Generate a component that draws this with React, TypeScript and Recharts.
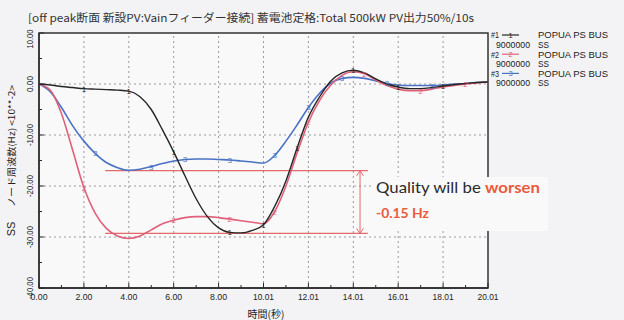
import React from "react";
import {
  LineChart,
  Line,
  XAxis,
  YAxis,
  CartesianGrid,
  ReferenceLine,
  ReferenceArea,
} from "recharts";

// time axis (s), 0.5 s steps
const times = [
  0, 0.5, 1, 1.5, 2, 2.5, 3, 3.5, 4, 4.5, 5, 5.5, 6, 6.5, 7, 7.5, 8, 8.5, 9, 9.5,
  10, 10.5, 11, 11.5, 12, 12.5, 13, 13.5, 14, 14.5, 15, 15.5, 16, 16.5, 17, 17.5,
  18, 18.5, 19, 19.5, 20,
];

// SS node frequency deviation, <10**-2> Hz
const bus1 = [
  0, -0.2, -0.5, -0.7, -0.9, -1.0, -1.1, -1.2, -1.4, -2.5, -5.0, -9.0, -13.3, -18.0,
  -22.5, -26.0, -28.2, -29.1, -29.2, -28.7, -27.6, -24.0, -19.0, -12.5, -6.5, -2.5,
  0.6, 2.2, 2.7, 2.2, 1.0, 0.0, -0.6, -0.9, -0.9, -0.7, -0.4, -0.1, 0.1, 0.3, 0.4,
];
const bus2 = [
  0, -1.2, -5.8, -13.0, -20.3, -25.3, -28.3, -29.8, -30.3, -29.8, -28.6, -27.4,
  -26.7, -26.2, -26.0, -26.0, -26.2, -26.5, -26.8, -27.1, -27.4, -25.0, -20.0,
  -13.5, -7.5, -3.2, -0.2, 1.7, 2.4, 2.0, 0.8, -0.3, -1.0, -1.3, -1.3, -1.0, -0.6,
  -0.3, 0.0, 0.2, 0.4,
];
const bus3 = [
  0, -1.5, -4.6, -8.2, -11.2, -13.6, -15.4, -16.4, -16.9, -16.7, -16.2, -15.6,
  -15.1, -14.8, -14.7, -14.7, -14.8, -14.9, -15.1, -15.3, -15.5, -14.0, -11.2,
  -8.0, -4.6, -1.8, 0.2, 1.1, 1.3, 1.1, 0.6, 0.1, -0.2, -0.3, -0.3, -0.3, -0.2,
  0.0, 0.1, 0.3, 0.4,
];

// which samples carry the little channel number symbols
const marks1 = [4, 8, 12, 17, 20, 23, 28, 32, 36];
const marks2 = [4, 12, 17, 21, 24, 29, 34, 38];
const marks3 = [5, 10, 13, 17, 21, 24, 27, 31, 35];

const xTicks = [0, 1, 2, 3, 4, 5, 6, 7, 8, 9, 10, 11, 12, 13, 14, 15, 16, 17, 18, 19, 20];
const xTickLabels = ["0.00", "2.00", "4.00", "6.00", "8.00", "10.01", "12.01", "14.01", "16.01", "18.01", "20.01"];
const yTicks = [10, 5, 0, -5, -10, -15, -20, -25, -30, -35, -40];
const gridX = [2, 4, 6, 8, 10, 12, 14, 16, 18];
const gridY = [0, -10, -20, -30];

// "quality will be worsen" band
const bandTop = -17.0;
const bandBottom = -29.3;
const bandFrom = 2.95;
const bandTo = 14.65;
const arrowAt = 14.3;

const legend = [
  { no: "#1", mark: "1", color: "#262626" },
  { no: "#2", mark: "2", color: "#e0607a" },
  { no: "#3", mark: "3", color: "#4a72c4" },
];

const data = times.map((t, i) => ({ t, b1: bus1[i], b2: bus2[i], b3: bus3[i] }));

const narrow = "'Liberation Sans', Arial, sans-serif";
const RED = "#e0607a";
const BAND = "#e46a6a";
const INK = "#2a2a2a";

function markDot(marks: number[], label: string, color: string) {
  return (p: any) => {
    if (!marks.includes(p.index)) return <g key={p.index} />;
    return (
      <text
        key={p.index}
        x={p.cx}
        y={p.cy + 3}
        fontSize={8}
        fontFamily={narrow}
        fill={color}
        textAnchor="middle"
      >
        {label}
      </text>
    );
  };
}

function XTick({ x, y, payload }: any) {
  const v = payload.value as number;
  const major = v % 2 === 0;
  const label = major ? xTickLabels[v / 2] : "";
  return (
    <g>
      <line x1={x} x2={x} y1={y} y2={y - (major ? 5 : 3)} stroke={INK} strokeWidth={1} />
      {major && (
        <text
          x={x}
          y={y + 12}
          textAnchor="middle"
          fontSize={9.5}
          fontFamily={narrow}
          fill="#222"
          textLength={label.length > 4 ? 21 : 17}
          lengthAdjust="spacingAndGlyphs"
        >
          {label}
        </text>
      )}
    </g>
  );
}

function YTick({ x, y, payload }: any) {
  const v = payload.value as number;
  const major = v % 10 === 0;
  const cy = v === 10 ? y + 6 : y;
  const label = v.toFixed(2);
  return (
    <g>
      <line x1={x} x2={x + (major ? 5 : 3)} y1={y} y2={y} stroke={INK} strokeWidth={1} />
      {major && (
        <text
          x={x - 10}
          y={cy}
          transform={`rotate(-90 ${x - 10} ${cy})`}
          textAnchor="middle"
          dominantBaseline="central"
          fontSize={9.5}
          fontFamily={narrow}
          fill="#222"
          textLength={label.length > 5 ? 22 : label.length > 4 ? 19 : 16}
          lengthAdjust="spacingAndGlyphs"
        >
          {label}
        </text>
      )}
    </g>
  );
}

function Overlay() {
  return (
    <svg width={624} height={320} style={{ position: "absolute", left: 0, top: 0, pointerEvents: "none" }}>
      <text
        x={28}
        y={22}
        fontSize={11}
        fontFamily="'Noto Sans CJK JP', sans-serif"
        fill="#333"
        textLength={446}
        lengthAdjust="spacingAndGlyphs"
      >
        [off peak断面 新設PV:Vainフィーダー接続] 蓄電池定格:Total 500kW PV出力50%/10s
      </text>

      {legend.map((l, i) => {
        const y0 = 35 + i * 19.2;
        return (
          <g key={l.no} fontFamily={narrow} fontSize={9} fill="#222">
            <text x={491} y={y0 + 3.3} textLength={8} lengthAdjust="spacingAndGlyphs">{l.no}</text>
            <line x1={502} x2={519} y1={y0} y2={y0} stroke={l.color} strokeWidth={1.2} />
            <text x={510.5} y={y0 + 3} textAnchor="middle" fontSize={7.5} fill={l.color}>{l.mark}</text>
            <text x={538} y={y0 + 3.3} textLength={70} lengthAdjust="spacingAndGlyphs">POPUA PS BUS</text>
            <text x={496} y={y0 + 12.5} textLength={34} lengthAdjust="spacingAndGlyphs">9000000</text>
            <text x={538} y={y0 + 12.5} textLength={11} lengthAdjust="spacingAndGlyphs">SS</text>
          </g>
        );
      })}

      <text
        x={11}
        y={146}
        transform="rotate(-90 11 146)"
        textAnchor="middle"
        dominantBaseline="central"
        fontSize={9}
        fontFamily="'Noto Sans CJK JP', sans-serif"
        fill="#222"
        textLength={122}
        lengthAdjust="spacingAndGlyphs"
      >
        ノード周波数(Hz) &lt;10**-2&gt;
      </text>
      <text
        x={11}
        y={229}
        transform="rotate(-90 11 229)"
        textAnchor="middle"
        dominantBaseline="central"
        fontSize={11}
        fontFamily={narrow}
        fill="#222"
      >
        SS
      </text>
      <text x={266} y={318} textAnchor="middle" fontSize={10} fontFamily="'Noto Sans CJK JP', sans-serif" fill="#222">
        時間(秒)
      </text>

      <rect x={372} y={177} width={176} height={54} fill="#f9f9fa" />
      <text
        x={376}
        y={193}
        fontSize={15}
        fontFamily="Lato, 'Open Sans', sans-serif"
        fill="#2b2b2b"
        textLength={164}
        lengthAdjust="spacingAndGlyphs"
      >
        Quality will be <tspan fill="#ea5a3c" fontWeight={700}>worsen</tspan>
      </text>
      <text
        x={376}
        y={218}
        fontSize={14}
        fontWeight={700}
        fontFamily="Lato, 'Open Sans', sans-serif"
        fill="#ea5a3c"
        textLength={53}
        lengthAdjust="spacingAndGlyphs"
      >
        -0.15 Hz
      </text>
    </svg>
  );
}

export default function App() {
  return (
    <div style={{ position: "absolute", left: 0, top: 0, width: 624, height: 320, background: "#f3f3f5" }}>
      <LineChart width={624} height={320} data={data} margin={{ top: 33, right: 136, bottom: 0, left: 0 }}>
        <CartesianGrid fill="#f9f9fa" horizontal={false} vertical={false} />
        <XAxis xAxisId="pad" dataKey="t" type="number" domain={[0, 20]} height={9} tick={false} axisLine={false} tickLine={false} />
        <XAxis
          dataKey="t"
          type="number"
          domain={[0, 20]}
          ticks={xTicks}
          interval={0}
          height={23}
          tickSize={0}
          tickMargin={0}
          tickLine={false}
          axisLine={{ stroke: INK, strokeWidth: 1.3 }}
          tick={<XTick />}
        />
        <YAxis yAxisId="pad" type="number" domain={[-40, 10]} width={8} tick={false} axisLine={false} tickLine={false} />
        <YAxis
          type="number"
          domain={[-40, 10]}
          ticks={yTicks}
          interval={0}
          width={31}
          tickSize={0}
          tickMargin={0}
          tickLine={false}
          axisLine={{ stroke: INK, strokeWidth: 1.3 }}
          tick={<YTick />}
        />
        {gridX.map((g) => (
          <ReferenceLine key={"gx" + g} x={g} stroke="#9a9a9a" strokeDasharray="2 3" />
        ))}
        {gridY.map((g) => (
          <ReferenceLine key={"gy" + g} y={g} stroke="#9a9a9a" strokeDasharray="2 3" />
        ))}
        <ReferenceArea x1={0} x2={20} y1={-40} y2={10} fill="none" stroke="#333" strokeWidth={1.5} />

        <ReferenceLine segment={[{ x: bandFrom, y: bandTop }, { x: bandTo, y: bandTop }]} stroke={BAND} strokeWidth={1.2} />
        <ReferenceLine segment={[{ x: bandFrom, y: bandBottom }, { x: bandTo, y: bandBottom }]} stroke={BAND} strokeWidth={1.2} />
        <ReferenceLine segment={[{ x: arrowAt, y: bandTop }, { x: arrowAt, y: bandBottom }]} stroke={BAND} strokeWidth={1} />
        <ReferenceLine segment={[{ x: arrowAt, y: bandTop }, { x: arrowAt - 0.15, y: bandTop - 1 }]} stroke={BAND} strokeWidth={1} />
        <ReferenceLine segment={[{ x: arrowAt, y: bandTop }, { x: arrowAt + 0.15, y: bandTop - 1 }]} stroke={BAND} strokeWidth={1} />
        <ReferenceLine segment={[{ x: arrowAt, y: bandBottom }, { x: arrowAt - 0.15, y: bandBottom + 1 }]} stroke={BAND} strokeWidth={1} />
        <ReferenceLine segment={[{ x: arrowAt, y: bandBottom }, { x: arrowAt + 0.15, y: bandBottom + 1 }]} stroke={BAND} strokeWidth={1} />

        <Line dataKey="b3" type="monotone" stroke="#4a72c4" strokeWidth={1.6} isAnimationActive={false} dot={markDot(marks3, "3", "#4a72c4")} activeDot={false} />
        <Line dataKey="b2" type="monotone" stroke={RED} strokeWidth={1.6} isAnimationActive={false} dot={markDot(marks2, "2", RED)} activeDot={false} />
        <Line dataKey="b1" type="monotone" stroke="#262626" strokeWidth={1.4} isAnimationActive={false} dot={markDot(marks1, "1", "#262626")} activeDot={false} />
      </LineChart>
      <Overlay />
    </div>
  );
}
